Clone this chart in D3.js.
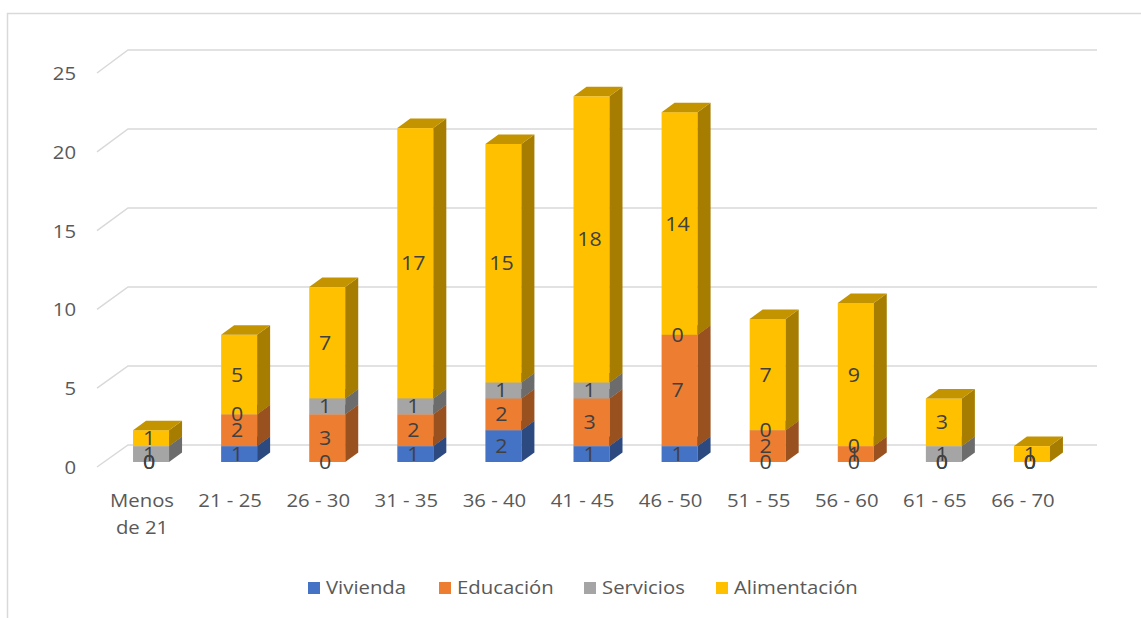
<!DOCTYPE html>
<html><head><meta charset="utf-8">
<script src="https://cdn.jsdelivr.net/npm/d3@7"></script>
<style>body{margin:0;background:#fff} text{font-family:"Open Sans",sans-serif}</style>
</head><body><svg id="c" width="1141" height="618"></svg>
<script>
const categories = ["Menos de 21","21 - 25","26 - 30","31 - 35","36 - 40","41 - 45","46 - 50","51 - 55","56 - 60","61 - 65","66 - 70"];
const vivienda     = [0,1,0,1,2,1,1,0,0,0,0];
const educacion    = [0,2,3,2,2,3,7,2,1,0,0];
const servicios    = [1,0,1,1,1,1,0,0,0,1,0];
const alimentacion = [1,5,7,17,15,18,14,7,9,3,1];
const seriesNames  = ["Vivienda","Educación","Servicios","Alimentación"];
const seriesColors = ["#4472C4","#ED7D31","#A5A5A5","#FFC000"];
const yTicks = [0,5,10,15,20,25];

const svg = d3.select("#c");
const SX = 1.07, FS = 19;
function txt(g, x, y, s, anchor, color, size){
  return g.append("text").attr("transform",`translate(${x},${y}) scale(${SX},1)`)
    .attr("text-anchor",anchor).attr("fill",color).attr("font-size",size||FS).text(s);
}

// frame
svg.append("rect").attr("x",7.5).attr("y",13.5).attr("width",1300).attr("height",800)
  .attr("fill","none").attr("stroke","#D9D9D9").attr("stroke-width",1.5);

const rows = categories.map((c,i)=>({cat:c, Vivienda:vivienda[i], "Educación":educacion[i], Servicios:servicios[i], "Alimentación":alimentacion[i]}));
const stacked = d3.stack().keys(seriesNames)(rows);

const x = d3.scaleBand().domain(categories).range([100,1069]);
const yFront = d3.scaleLinear().domain([0,25]).range([467,73]);
const yBack  = d3.scaleLinear().domain([0,25]).range([445,50]);
const yBar   = d3.scaleLinear().domain([0,25]).range([462,462-25*15.9]);
const DX = 31, BDX = 13, BDY = 9.5, BW = 36, BOFF = 7;

// gridlines
const grid = svg.append("g").attr("stroke","#D9D9D9").attr("stroke-width",1.5).attr("fill","none");
yTicks.forEach(v=>{
  grid.append("path").attr("d",`M97,${yFront(v)}L${97+DX},${yBack(v)}L1097,${yBack(v)}`);
});
// y labels
const yl = svg.append("g");
yTicks.forEach(v=>{ txt(yl, 76, yFront(v)+7, String(v), "end", "#595959"); });

// bars
const bars = svg.append("g");
categories.forEach((c,i)=>{
  const cx = x(c)+x.bandwidth()/2+BOFF;
  const x0 = cx-BW/2, x1 = cx+BW/2;
  stacked.forEach((s,k)=>{
    const d = s[i];
    if (d[1]-d[0] <= 0) return;
    const yb = yBar(d[0]), yt = yBar(d[1]);
    const col = d3.color(seriesColors[k]);
    bars.append("rect").attr("x",x0).attr("y",yt).attr("width",BW).attr("height",yb-yt).attr("fill",col.formatHex());
    bars.append("path").attr("d",`M${x1},${yb}L${x1+BDX},${yb-BDY}L${x1+BDX},${yt-BDY}L${x1},${yt}Z`).attr("fill",col.darker(1.2).formatHex());
    bars.append("path").attr("d",`M${x0},${yt}L${x0+BDX},${yt-BDY}L${x1+BDX},${yt-BDY}L${x1},${yt}Z`).attr("fill",col.darker(0.75).formatHex());
  });
});
// data labels
const dl = svg.append("g");
categories.forEach((c,i)=>{
  const cx = x(c)+x.bandwidth()/2+BOFF-2;
  stacked.forEach((s,k)=>{
    const d = s[i];
    const ym = (yBar(d[0])+yBar(d[1]))/2;
    txt(dl, cx, ym+7, String(d[1]-d[0]), "middle", "#404040", 20);
  });
});
// category labels
const cl = svg.append("g");
categories.forEach(c=>{
  const cx = x(c)+x.bandwidth()/2-2;
  const lines = c.length>8 ? [c.slice(0,c.indexOf(" ")), c.slice(c.indexOf(" ")+1)] : [c];
  lines.forEach((l,j)=> txt(cl, cx, 507+27*j, l, "middle", "#595959"));
});
// legend
const legX = [308,439,584,716];
const lg = svg.append("g");
seriesNames.forEach((n,k)=>{
  lg.append("rect").attr("x",legX[k]).attr("y",582).attr("width",12).attr("height",12).attr("fill",seriesColors[k]);
  txt(lg, legX[k]+18, 594, n, "start", "#595959");
});
</script></body></html>
